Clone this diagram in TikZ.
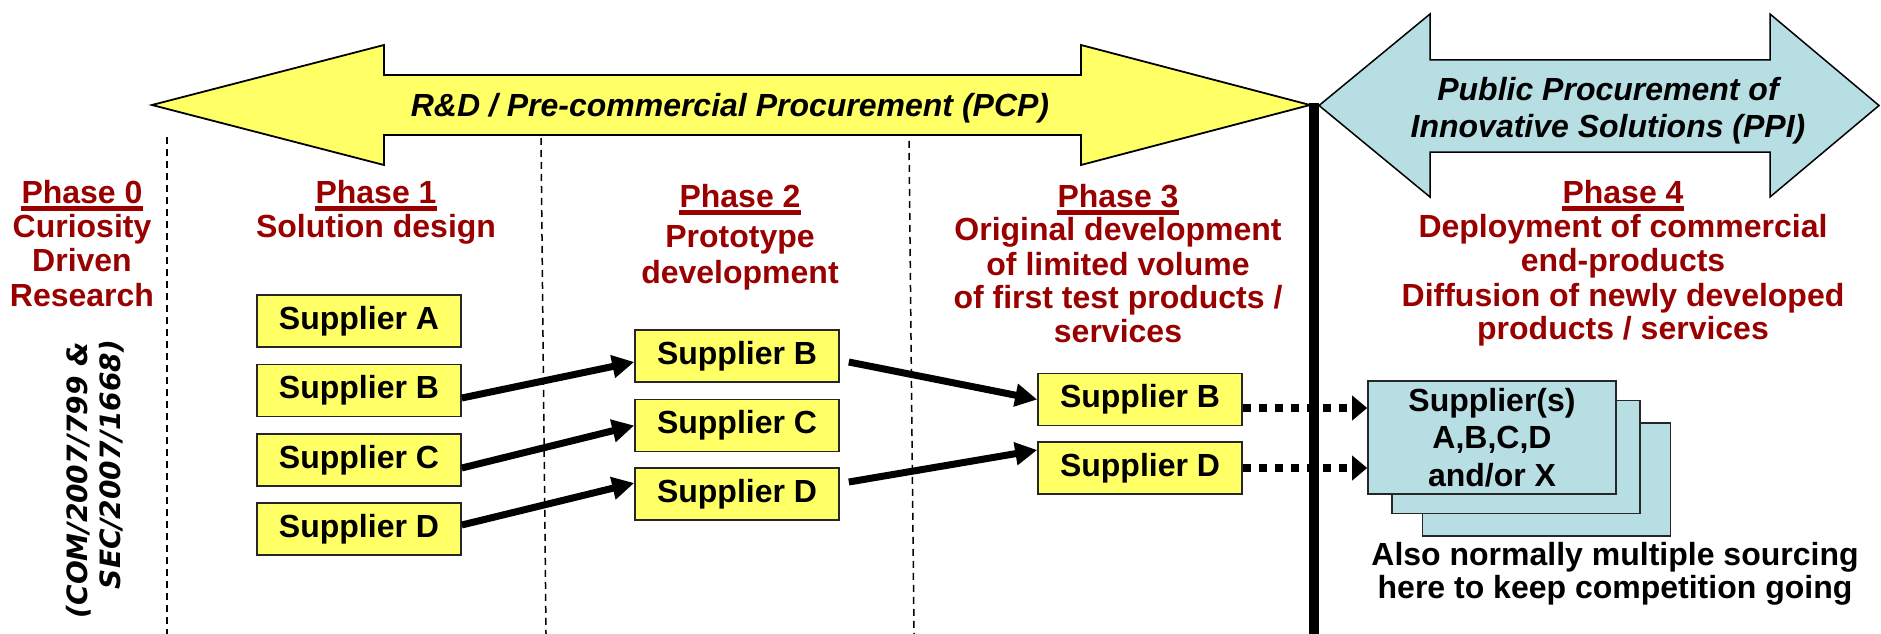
\documentclass[tikz,border=0pt]{standalone}
\usepackage{fontspec}
\setmainfont{Liberation Sans}
\newfontfamily\verdfont{DejaVu Sans}
\usetikzlibrary{arrows.meta}
\definecolor{yel}{RGB}{255,255,102}
\definecolor{ppiblue}{RGB}{183,222,227}
\definecolor{dred}{RGB}{153,0,0}
\begin{document}
\begin{tikzpicture}[x=1pt,y=-1pt,
  big/.style={font=\fontsize{32}{37.5}\selectfont\bfseries},
  bigit/.style={font=\fontsize{32}{37}\selectfont\bfseries\itshape},
  ph/.style={big, text=dred, anchor=base, inner sep=0pt},
  blk/.style={big, text=black, anchor=base, inner sep=0pt},
  ital/.style={bigit, text=black, anchor=base, inner sep=0pt},
  uline/.style={draw=dred, line width=4.5pt},
  supbox/.style={big, draw=black!85, line width=1.6pt, fill=yel, minimum width=204pt, minimum height=52pt, inner sep=0pt},
  stackbox/.style={draw=black!85, line width=1.6pt, fill=ppiblue, minimum width=248pt, minimum height=113pt, inner sep=0pt},
  flow/.style={draw=black, line width=7pt, -{Triangle[length=22pt,width=22pt]}},
  dots/.style={draw=black, line width=8pt, dash pattern=on 8pt off 8pt, -{Triangle[length=15pt,width=24pt]}},
  divider/.style={draw=black, line width=1.5pt, dash pattern=on 7pt off 5pt},
  bigarrow/.style={draw=black, line width=1.8pt, line join=miter},
  rot/.style={font=\verdfont\fontsize{28}{31}\selectfont\bfseries\itshape, anchor=base east, inner sep=0pt, rotate=90}
]
\fill[white] (0,0) rectangle (1881,634);
\useasboundingbox (0,0) rectangle (1881,634);

% dashed phase dividers
\draw[divider] (167,137) -- (167,634);
\draw[divider] (541,138) -- (546,634);
\draw[divider] (909,141) -- (914,634);

% yellow PCP double arrow
\draw[bigarrow, fill=yel] (152,105) -- (384,45) -- (384,75) -- (1081,75) -- (1081,45) -- (1310,105)
  -- (1081,165) -- (1081,135) -- (384,135) -- (384,165) -- cycle;
\node[ital] (pcp) at (730,116) {R\&D / Pre-commercial Procurement (PCP)};

% blue PPI double arrow
\draw[bigarrow, line width=1.5pt, fill=ppiblue] (1319,105.5) -- (1430,14) -- (1430,60) -- (1770,60) -- (1770,14)
  -- (1879,105.5) -- (1770,197) -- (1770,152) -- (1430,152) -- (1430,197) -- cycle;
\node[ital] (ppi1) at (1608,100) {Public Procurement of};
\node[ital] (ppi2) at (1608,137) {Innovative Solutions (PPI)};

% thick black separator
\draw[line width=10pt] (1314,103) -- (1314,634);

% Phase 0
\node[ph] (p0t) at (82,203) {Phase 0};
\node[ph] (p0l1) at (82,237) {Curiosity};
\node[ph] (p0l2) at (82,271) {Driven};
\node[ph] (p0l3) at (82,306) {Research};
\draw[uline] ([yshift=-5.5pt]p0t.base west) -- ([yshift=-5.5pt]p0t.base east);
\node[rot] (com1) at (87,342) {(COM/2007/799 \&};
\node[rot] (com2) at (120,340) {SEC/2007/1668)};

% Phase 1
\node[ph] (p1t) at (376,203) {Phase 1};
\node[ph] (p1l1) at (376,237) {Solution design};
\draw[uline] ([yshift=-5.5pt]p1t.base west) -- ([yshift=-5.5pt]p1t.base east);

% Phase 2
\node[ph] (p2t) at (740,207) {Phase 2};
\node[ph] (p2l1) at (740,247) {Prototype};
\node[ph] (p2l2) at (740,283) {development};
\draw[uline] ([yshift=-5.5pt]p2t.base west) -- ([yshift=-5.5pt]p2t.base east);

% Phase 3
\node[ph] (p3t) at (1118,207) {Phase 3};
\node[ph] (p3l1) at (1118,240) {Original development};
\node[ph] (p3l2) at (1118,275) {of limited volume};
\node[ph] (p3l3) at (1118,308) {of first test products /};
\node[ph] (p3l4) at (1118,342) {services};
\draw[uline] ([yshift=-5.5pt]p3t.base west) -- ([yshift=-5.5pt]p3t.base east);

% Phase 4
\node[ph] (p4t) at (1623,203) {Phase 4};
\node[ph] (p4l1) at (1623,237) {Deployment of commercial};
\node[ph] (p4l2) at (1623,271) {end-products};
\node[ph] (p4l3) at (1623,306) {Diffusion of newly developed};
\node[ph] (p4l4) at (1623,339) {products / services};
\draw[uline] ([yshift=-5.5pt]p4t.base west) -- ([yshift=-5.5pt]p4t.base east);

% supplier boxes
\node[supbox] (p1a) at (359,321) {Supplier A};
\node[supbox] (p1b) at (359,390.5) {Supplier B};
\node[supbox] (p1c) at (359,460) {Supplier C};
\node[supbox] (p1d) at (359,529) {Supplier D};
\node[supbox] (p2b) at (737,356) {Supplier B};
\node[supbox] (p2c) at (737,425.5) {Supplier C};
\node[supbox] (p2d) at (737,494) {Supplier D};
\node[supbox] (p3b) at (1140,399.5) {Supplier B};
\node[supbox] (p3d) at (1140,468) {Supplier D};

% stacked PPI suppliers
\node[stackbox] (stk3) at (1546.5,479.5) {};
\node[stackbox] (stk2) at (1516,457) {};
\node[stackbox, big, align=center] (stk) at (1492,437.5) {Supplier(s)\\A,B,C,D\\and/or X};

% connectors
\draw[flow] ([yshift=-7.5pt]p1b.east) -- ([yshift=-6pt]p2b.west);
\draw[flow] ([yshift=-8pt]p1c.east) -- (p2c.west);
\draw[flow] ([yshift=4pt]p1d.east) -- ([yshift=11pt]p2d.west);
\draw[flow] ([xshift=9pt,yshift=-6pt]p2b.east) -- (p3b.west);
\draw[flow] ([xshift=9pt,yshift=12pt]p2d.east) -- ([yshift=18pt]p3d.west);
\draw[dots] ([yshift=-8.5pt]p3b.east) -- ([yshift=29.5pt]stk.west);
\draw[dots] (p3d.east) -- ([yshift=-30.5pt]stk.west);

% note
\node[blk] (note1) at (1615,565) {Also normally multiple sourcing};
\node[blk] (note2) at (1615,598) {here to keep competition going};
\end{tikzpicture}
\end{document}
